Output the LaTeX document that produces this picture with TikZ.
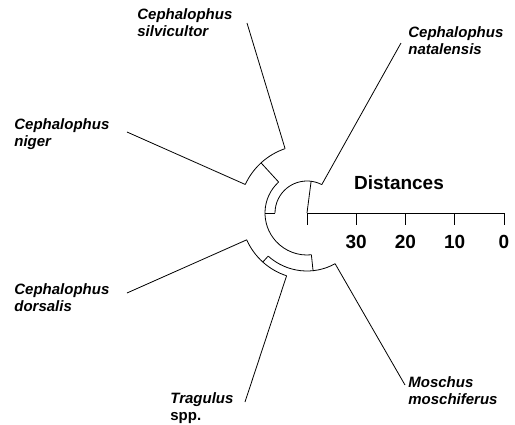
\documentclass[tikz,border=0pt]{standalone}
\usepackage{fontspec}
\setmainfont{Liberation Sans}
\begin{document}
\begin{tikzpicture}[x=1pt,y=1pt,line width=0.8pt,
    taxon/.style={anchor=north west,inner sep=0pt,align=left,
      font=\fontsize{15}{17}\selectfont\bfseries\itshape},
    scalelabel/.style={inner sep=0pt,anchor=base,
      font=\fontsize{19}{22}\selectfont\bfseries}]
  \useasboundingbox (-307,-211) rectangle (208,213);
  % Centre of the tree (also the left end of the scale)
  \coordinate (O) at (0,0);
  % Inner nodes: radial points on the arcs around the centre
  \coordinate (root) at (82.6:32);
  \coordinate (n1l) at (180:32);   \coordinate (n1r) at (62.5:32);
  \coordinate (n2) at (180:42);    \coordinate (n2t) at (132.5:42);  \coordinate (n2b) at (276:42);
  \coordinate (n3) at (132.5:68);  \coordinate (n3l) at (155.2:68);  \coordinate (n3r) at (108.8:68);
  \coordinate (n4) at (276:58);    \coordinate (n4l) at (228:58);    \coordinate (n4r) at (299:58);
  \coordinate (n5) at (228:66);    \coordinate (n5l) at (204:66);    \coordinate (n5r) at (252:66);
  % Tips of the leaves
  \coordinate (natalensis) at (94,170);
  \coordinate (silvicultor) at (-60,190);
  \coordinate (niger) at (-180,81);
  \coordinate (dorsalis) at (-180,-80);
  \coordinate (tragulus) at (-62,-189);
  \coordinate (moschus) at (98,-172);

  % Arcs of the clades
  \draw (n1r) arc[start angle=62.5, end angle=180, radius=32];
  \draw (n2t) arc[start angle=132.5, end angle=276, radius=42];
  \draw (n3r) arc[start angle=108.8, end angle=155.2, radius=68];
  \draw (n4l) arc[start angle=228, end angle=299, radius=58];
  \draw (n5l) arc[start angle=204, end angle=252, radius=66];
  % Stems between the clades
  \draw (O) -- (root);
  \draw (n1l) -- (n2);
  \draw (n2t) -- (n3);
  \draw (n2b) -- (n4);
  \draw (n4l) -- (n5);
  % Leaves
  \draw (n1r) -- (natalensis);
  \draw (n3r) -- (silvicultor);
  \draw (n3l) -- (niger);
  \draw (n5l) -- (dorsalis);
  \draw (n5r) -- (tragulus);
  \draw (n4r) -- (moschus);

  % Taxon labels
  \node[taxon] (lnat) at (101,187) {Cephalophus\\natalensis};
  \node[taxon] (lsil) at (-170,205) {Cephalophus\\silvicultor};
  \node[taxon] (lnig) at (-293,95) {Cephalophus\\niger};
  \node[taxon] (ldor) at (-293,-70) {Cephalophus\\dorsalis};
  \node[taxon] (ltra) at (-137,-179) {Tragulus\\\upshape spp.};
  \node[taxon] (lmos) at (101,-163) {Moschus\\moschiferus};

  % Distance scale: 10 units = 49.25pt, 0 at the right end
  \draw (O) -- (197,0);
  \foreach \d in {40,30,20,10,0} {
    \pgfmathsetmacro{\xx}{197-4.925*\d}
    \draw (\xx,0) -- (\xx,-12);
  }
  \foreach \d in {30,20,10,0} {
    \pgfmathsetmacro{\xx}{197-4.925*\d}
    \node[scalelabel] (d\d) at (\xx,-35) {\d};
  }
  \node[scalelabel] (dist) at (92,24) {Distances};
\end{tikzpicture}
\end{document}
